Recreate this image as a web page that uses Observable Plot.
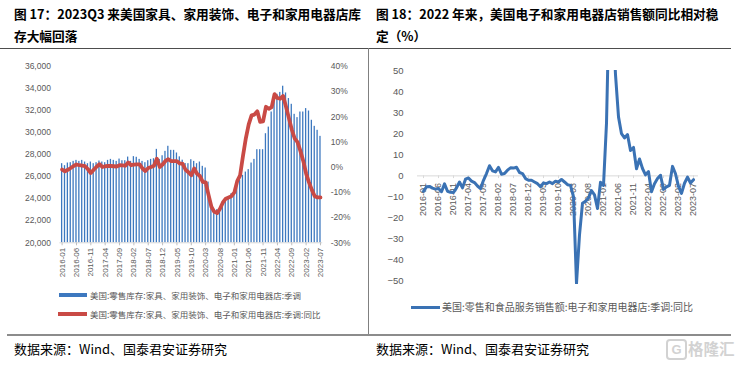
<!DOCTYPE html>
<html><head><meta charset="utf-8">
<script src="https://cdn.jsdelivr.net/npm/d3@7"></script>
<script src="https://cdn.jsdelivr.net/npm/@observablehq/plot@0.6"></script>
<style>
body{margin:0;background:#fff;}
#page{position:relative;width:740px;height:367px;overflow:hidden;font-family:"Noto Sans CJK SC",sans-serif;background:#fff;}
.title{position:absolute;top:3px;font-size:12.7px;font-weight:bold;line-height:22px;color:#000;white-space:nowrap;}
.src{position:absolute;top:340px;font-size:13px;line-height:18px;color:#000;white-space:nowrap;}
.abs{position:absolute;}
.leg{position:absolute;font-size:8.5px;color:#595959;white-space:nowrap;line-height:12px;}
svg{overflow:visible;}
</style></head>
<body><div id="page">
<div class="title" style="left:14px">图 17：2023Q3 来美国家具、家用装饰、电子和家用电器店库<br>存大幅回落</div>
<div class="title" style="left:376px">图 18：2022 年来，美国电子和家用电器店销售额同比相对稳<br>定（%）</div>
<div class="abs" style="left:0;top:47.5px;width:731px;height:1.3px;background:#4d4d4d"></div>
<div class="abs" style="left:367.5px;top:48px;width:1px;height:287px;background:#808080"></div>
<div class="abs" style="left:7px;top:334px;width:724px;height:2px;background:#8c8c8c"></div>
<div id="leftBars" class="abs" style="left:0;top:50px"></div>
<div id="leftLine" class="abs" style="left:0;top:50px"></div>
<div id="right" class="abs" style="left:370px;top:50px"></div>
<div class="abs" style="left:59px;top:293px;width:28px;height:4px;background:#3d78bf"></div>
<div class="leg" style="left:90px;top:289px" id="leg1"></div>
<div class="abs" style="left:58px;top:312px;width:29px;height:4px;background:#c94a45"></div>
<div class="leg" style="left:90px;top:308px" id="leg2"></div>
<div class="abs" style="left:411px;top:305.5px;width:29px;height:3.5px;background:#3a72b4"></div>
<div class="leg" style="left:442px;top:301px;font-size:10px" id="leg3"></div>
<div class="src" style="left:14px">数据来源：Wind、国泰君安证券研究</div>
<div class="src" style="left:376px">数据来源：Wind、国泰君安证券研究</div>
<div class="abs" style="left:666px;top:339px;width:17px;height:17px;border:2px solid #d2d2d2;border-radius:4px;color:#d2d2d2;font:bold 13px 'Liberation Sans',sans-serif;text-align:center;line-height:17px">G</div>
<div class="abs" style="left:688px;top:336px;font-size:15.5px;font-weight:bold;color:#d2d2d2;line-height:24px">格隆汇</div>
</div>
<script>
// categories
const months = [];
for (let y = 2016; y <= 2023; y++) for (let m = 1; m <= 12; m++) {
  if (y === 2023 && m > 7) break;
  months.push(y + "-" + String(m).padStart(2, "0"));
}
const tickMonths = months.filter((d, i) => i % 5 === 0);

// Fig 17: retail inventories (left axis) and YoY % (right axis)
const inventory = [
  27180,27000,27240,27270,27390,27480,27390,27480,27330,27180,
  27330,27180,27270,27420,27330,27270,27480,27570,27480,27390,
  27600,27450,27450,27780,27390,27820,27760,27570,27390,27270,
  27450,27570,27630,28480,27570,27900,28300,28760,28390,28390,
  28150,27800,27500,27200,27180,27540,27390,27180,27330,26940,
  26790,25510,23250,22900,23000,23100,23570,24030,24150,24450,
  24750,25360,25660,26120,26420,26640,27240,27570,28450,28450,
  28450,29900,30500,31870,33300,33480,33650,34210,33600,33090,
  32570,31660,31360,31870,31870,32180,31960,31120,30570,30210,
  29660];
const inventoryYoY = [
  -0.9,-1.6,-1.0,-0.3,0.5,1.1,0.8,0.6,0.4,-0.8,
  -2.3,-1.0,0.2,1.2,0.1,0.4,0.5,0.5,0.4,0.3,
  0.8,0.7,0.6,1.9,0.8,1.0,1.1,1.1,-0.5,-1.5,
  -0.3,0.1,0.6,3.4,0.1,1.1,2.5,3.2,2.4,2.4,
  2.4,1.5,1.3,-1.0,-2.0,-3.2,-0.5,-2.6,-3.5,-5.8,
  -6.0,-11.0,-15.7,-17.7,-18.2,-16.5,-14.0,-12.5,-12.0,-11.5,
  -10.0,-5.5,-3.2,4.5,11.5,17.0,20.6,20.9,22.2,18.0,
  18.2,24.0,23.2,23.9,29.0,27.5,27.2,28.3,24.0,19.5,
  15.0,11.5,10.0,6.5,2.5,-2.5,-6.0,-9.0,-11.5,-12.0,
  -12.0];
const leftTicks = [20000,22000,24000,26000,28000,30000,32000,34000,36000];
const pctTicks = [-30,-20,-10,0,10,20,30,40];

// Fig 18: electronics & appliance store sales YoY %
const salesYoY = [
  -7.3,-5.2,-5.0,-5.8,-6.3,-6.0,-7.5,-3.8,-7.3,-7.8,
  -7.9,-5.7,-2.9,-5.7,-1.6,-1.0,-2.5,-3.2,-4.8,-6.0,
  -2.1,1.1,4.8,2.4,1.9,4.0,0.8,1.1,2.7,3.8,
  3.7,4.1,1.6,1.1,-1.3,-2.1,-2.1,-2.9,-3.7,-5.2,
  -3.3,-3.7,-2.9,-3.7,-2.5,-2.9,-1.7,-2.9,-4.2,-4.5,
  -10,-51,-28,-13,-12,-10.5,-7,-9,-15.5,-3,
  -4.5,25,90,80,48,28,20,18,19.6,12,
  13.5,3.4,8,3.5,0.5,2,-7.5,-3.7,-1.3,0.3,
  -6.4,-5.2,-4.5,4.5,1,-5,-8.3,-3.5,-0.6,-3.4,
  -1.8];
const rightTicks = [-50,-40,-30,-20,-10,0,10,20,30,40,50];

const legendLabels = [
  "美国:零售库存:家具、家用装饰、电子和家用电器店:季调",
  "美国:零售库存:家具、家用装饰、电子和家用电器店:季调:同比",
  "美国:零售和食品服务销售额:电子和家用电器店:季调:同比"
];
document.getElementById("leg1").textContent = legendLabels[0];
document.getElementById("leg2").textContent = legendLabels[1];
document.getElementById("leg3").textContent = legendLabels[2];

const leftData = months.map((m, i) => ({month: m, value: inventory[i], yoy: inventoryYoY[i]}));
const salesData = months.map((m, i) => ({month: m, value: salesYoY[i]}));

const axisFont = "'Liberation Sans', Arial, sans-serif";
const L = {width: 368, height: 235, marginTop: 16, marginBottom: 42.7, marginLeft: 59.4, marginRight: 45.8};

const leftBars = Plot.plot({
  ...L,
  style: {background: "transparent", fontFamily: axisFont, fontSize: "8.5px", color: "#595959"},
  x: {type: "band", domain: months, padding: 0.55, label: null},
  y: {domain: [leftTicks[0], leftTicks[leftTicks.length - 1]], label: null},
  marks: [
    Plot.barY(leftData, {x: "month", y1: () => leftTicks[0], y2: "value", fill: "#3d78bf"}),
    Plot.ruleY([leftTicks[0]], {stroke: "#d9d9d9"}),
    Plot.axisY(leftTicks, {anchor: "left", tickSize: 0, tickPadding: 9, tickFormat: d3.format(","), fill: "#595959", label: null}),
    Plot.axisX(tickMonths, {anchor: "bottom", tickSize: 3, tickPadding: 2, tickRotate: -90, stroke: "#bfbfbf", fill: "#595959", fontSize: 8, label: null})
  ]
});
document.getElementById("leftBars").append(leftBars);

const leftLine = Plot.plot({
  ...L,
  style: {background: "transparent", fontFamily: axisFont, fontSize: "8.5px", color: "#595959"},
  x: {type: "band", domain: months, padding: 0.55, axis: null},
  y: {domain: [pctTicks[0], pctTicks[pctTicks.length - 1]], label: null},
  marks: [
    Plot.line(leftData, {x: "month", y: "yoy", stroke: "#c94a45", strokeWidth: 3.8}),
    Plot.axisY(pctTicks, {anchor: "right", tickSize: 0, tickPadding: 8, tickFormat: d => d + "%", fill: "#595959", label: null})
  ]
});
document.getElementById("leftLine").append(leftLine);

const right = Plot.plot({
  width: 365, height: 240, marginTop: 20, marginBottom: 6.1, marginLeft: 47, marginRight: 37,
  style: {background: "transparent", fontFamily: axisFont, fontSize: "9.5px", color: "#595959"},
  x: {type: "point", domain: months, padding: 0, axis: null},
  y: {domain: [-51.5, 50], label: null},
  marks: [
    Plot.ruleY([0], {stroke: "#d9d9d9"}),
    Plot.ruleX(tickMonths, {x: d => d, y1: () => 0, y2: () => -1.3, stroke: "#d9d9d9"}),
    Plot.text(tickMonths, {x: d => d, y: () => 0, text: d => d, rotate: -90, textAnchor: "end", dy: 7, fontSize: 9, fill: "#595959"}),
    Plot.line(salesData, {x: "month", y: "value", stroke: "#3a72b4", strokeWidth: 3, clip: true}),
    Plot.axisY(rightTicks, {anchor: "left", tickSize: 0, tickPadding: 14, fill: "#595959", label: null})
  ]
});
document.getElementById("right").append(right);
</script>
</body></html>
